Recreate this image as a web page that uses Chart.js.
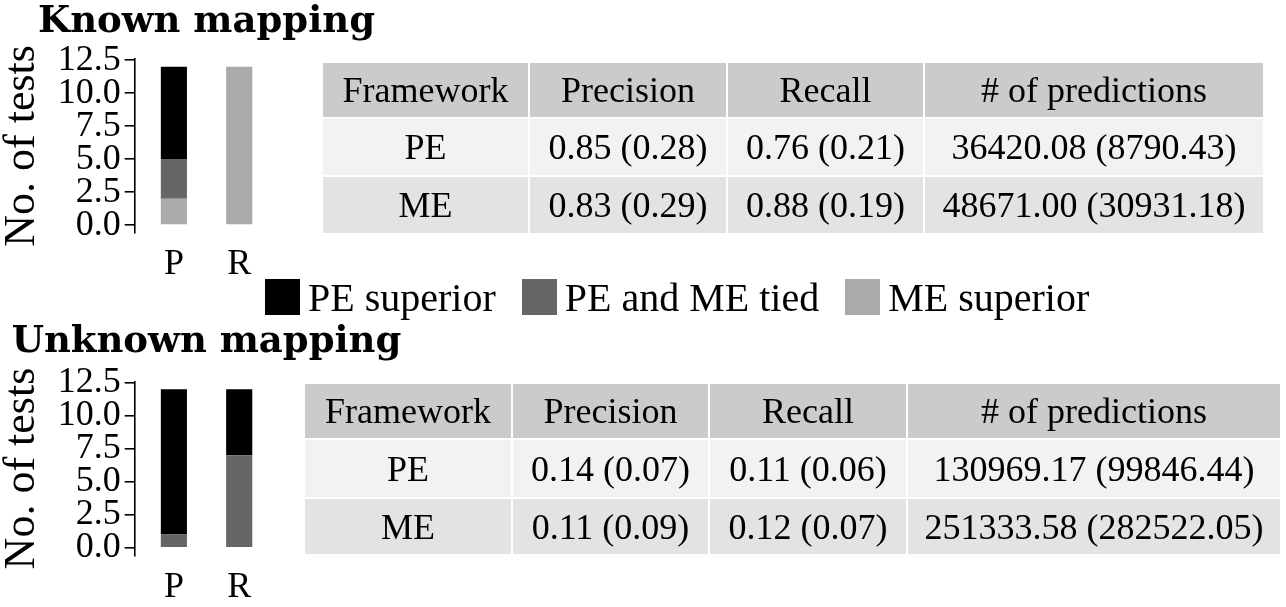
<!DOCTYPE html>
<html><head><meta charset="utf-8">
<script src="https://cdn.jsdelivr.net/npm/chart.js@4.4.1/dist/chart.umd.min.js"></script>
<style>
html,body{margin:0;padding:0;background:#fff;}
body{width:1286px;height:607px;position:relative;overflow:hidden;font-family:"Liberation Serif",serif;color:#000;}
canvas{position:absolute;left:0;}
#c1{top:0;}
#c2{top:320px;}
table{position:absolute;border-collapse:collapse;table-layout:fixed;font-size:36px;z-index:2;}
td,th{border:2px solid #fff;text-align:center;vertical-align:middle;padding:0;font-weight:normal;white-space:nowrap;overflow:hidden;}
th{background:#cbcbcb;}
tr.r0 td{background:#f2f2f2;}
tr.r1 td{background:#e3e3e3;}
#t1{left:321px;top:61px;}
#t2{left:303px;top:382px;}
#legend{position:absolute;left:265px;top:279px;height:36px;display:flex;align-items:center;font-size:40px;z-index:2;white-space:nowrap;}
.li{display:flex;align-items:center;margin-right:26px;}
.sw{width:35px;height:36px;margin-right:8px;}
</style>
</head><body>
<canvas id="c1" width="413" height="300"></canvas>
<canvas id="c2" width="413" height="287"></canvas>
<table id="t1"></table>
<table id="t2"></table>
<div id="legend"></div>
<script>
// ---------- data ----------
const categories = ["P", "R"];
const seriesNames = ["PE superior", "PE and ME tied", "ME superior"];
const seriesColors = ["#000000", "#666666", "#aaaaaa"];
// Known mapping (values per category P, R)
const knownPE = [7, 0];
const knownTied = [3, 0];
const knownME = [2, 12];
// Unknown mapping
const unknownPE = [11, 5];
const unknownTied = [1, 7];
const unknownME = [0, 0];
const yTickValues = [0, 2.5, 5, 7.5, 10, 12.5];
const yTickLabels = ["0.0", "2.5", "5.0", "7.5", "10.0", "12.5"];
const tableHeader = ["Framework", "Precision", "Recall", "# of predictions"];
const knownRows = [
  ["PE", "0.85 (0.28)", "0.76 (0.21)", "36420.08 (8790.43)"],
  ["ME", "0.83 (0.29)", "0.88 (0.19)", "48671.00 (30931.18)"]
];
const unknownRows = [
  ["PE", "0.14 (0.07)", "0.11 (0.06)", "130969.17 (99846.44)"],
  ["ME", "0.11 (0.09)", "0.12 (0.07)", "251333.58 (282522.05)"]
];

// ---------- charts ----------
function pts(vals){ return categories.map((c,i)=>({x:i, y:vals[i]})); }
function makeChart(id, title, pe, tied, me, layout){
  const series = [pe, tied, me];
  // stack bottom-to-top: ME superior, tied, PE superior
  const order = [2,1,0];
  const datasets = order.map(k => ({
    label: seriesNames[k], data: pts(series[k]), backgroundColor: seriesColors[k],
    borderWidth: 0, barPercentage: 0.4, categoryPercentage: 1.0
  }));
  return new Chart(document.getElementById(id), {
    type: 'bar',
    data: {datasets},
    options: {
      responsive: false, animation: false,
      layout: {padding: 0},
      plugins: {
        legend: {display: false}, tooltip: {enabled: false},
        title: {display: true, text: title, align: 'center', fullSize: true, color: '#000',
          font: {family: 'DejaVu Serif', weight: 'bold', size: 37, lineHeight: 1.2},
          padding: {top: layout.titleTop, bottom: layout.titleBottom}}
      },
      scales: {
        x: {type: 'linear', stacked: true, min: -0.6, max: 1.6, offset: false,
          grid: {display: false, drawTicks: false, offset: false}, border: {display: false},
          afterBuildTicks: s => { s.ticks = categories.map((c,i)=>({value:i})); },
          afterFit: s => { s.height = layout.xHeight; },
          ticks: {autoSkip: false, maxRotation: 0, padding: layout.xPad, color: '#000', font: {family: 'Liberation Serif', size: 36},
            callback: v => categories[v]}},
        y: {type: 'linear', stacked: true, min: -0.6, max: 12.6, position: 'left',
          grid: {display: true, drawOnChartArea: false, drawTicks: true, tickLength: 10, tickColor: '#000', lineWidth: 1.6},
          border: {display: true, color: '#000', width: 1.6},
          afterBuildTicks: s => { s.ticks = yTickValues.map(v=>({value:v})); },
          afterFit: s => { s.width = 134.7; },
          ticks: {autoSkip: false, padding: 4, color: '#000', font: {family: 'Liberation Serif', size: 36},
            callback: v => yTickLabels[yTickValues.indexOf(v)]},
          title: {display: true, text: 'No. of tests', color: '#000',
            font: {family: 'Liberation Serif', size: 44, lineHeight: 1}, padding: {top: 0, bottom: 0}}},
        yr: {type: 'linear', position: 'right', display: true,
          grid: {display: false, drawTicks: false}, border: {display: false},
          ticks: {display: false},
          afterFit: s => { s.width = 413 - 278.4; }}
      }
    }
  });
}
makeChart('c1', 'Known mapping', knownPE, knownTied, knownME,
  {titleTop: 0, titleBottom: 14.4, xHeight: 300 - 233.0, xPad: 10});
makeChart('c2', 'Unknown mapping', unknownPE, unknownTied, unknownME,
  {titleTop: 0.5, titleBottom: 16.5, xHeight: 287 - 235.7, xPad: 10.7});

// ---------- tables ----------
function buildTable(id, rows, colW, rowH){
  const t = document.getElementById(id);
  let html = '<colgroup>' + colW.map(w=>`<col style="width:${w}px">`).join('') + '</colgroup>';
  html += `<tr style="height:${rowH[0]}px">` + tableHeader.map(h=>`<th>${h}</th>`).join('') + '</tr>';
  rows.forEach((r,i)=>{
    html += `<tr class="r${i}" style="height:${rowH[i+1]}px">` + r.map(c=>`<td>${c}</td>`).join('') + '</tr>';
  });
  t.innerHTML = html;
  t.style.width = colW.reduce((a,b)=>a+b,0) + 'px';
}
buildTable('t1', knownRows, [207, 198, 197, 340], [56, 58, 58]);
buildTable('t2', unknownRows, [208, 197, 198, 374], [56, 59, 57]);

// ---------- legend ----------
const lg = document.getElementById('legend');
seriesNames.forEach((n,i)=>{
  const d = document.createElement('div'); d.className = 'li';
  d.innerHTML = `<div class="sw" style="background:${seriesColors[i]}"></div><span>${n}</span>`;
  lg.appendChild(d);
});
</script>
</body></html>
